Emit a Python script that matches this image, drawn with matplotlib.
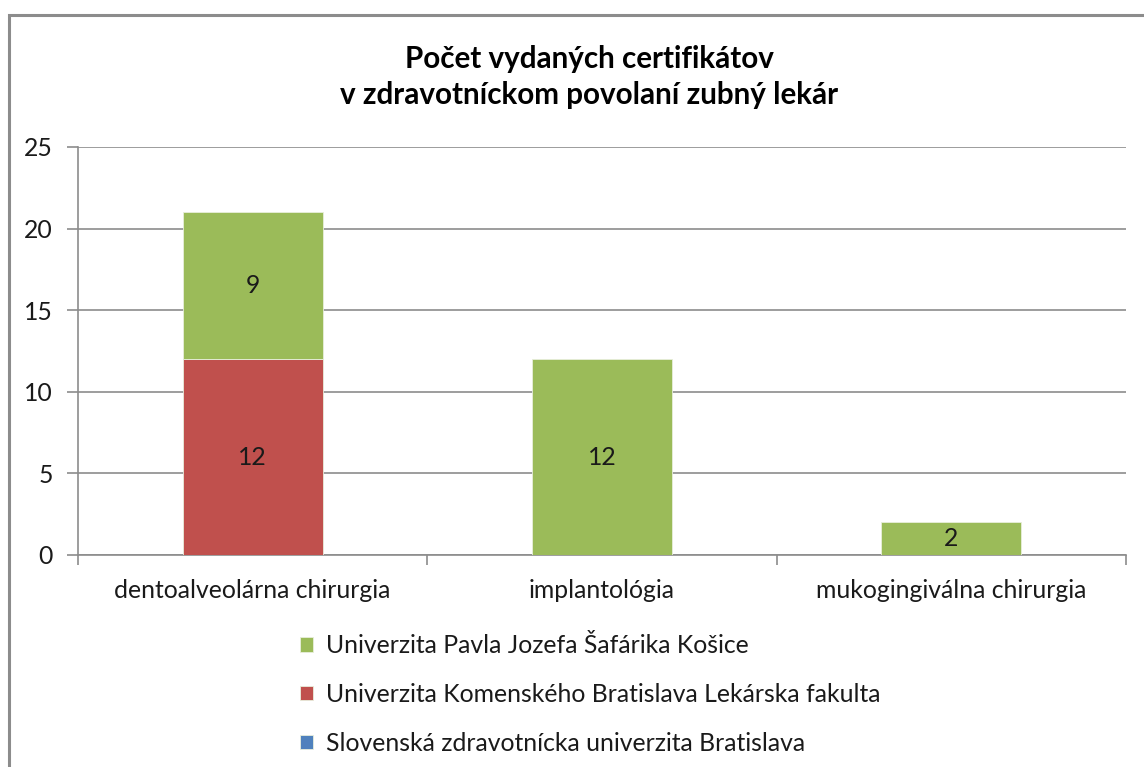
import numpy as np
import matplotlib.pyplot as plt
from matplotlib.patches import Rectangle

plt.rcParams['font.family'] = ['Lato', 'DejaVu Sans']

# Data
kategorie = ['dentoalveolárna chirurgia', 'implantológia', 'mukogingiválna chirurgia']
szu = [0, 0, 0]
uk_lf = [12, 0, 0]
upjs = [9, 12, 2]
nazvy = ['Slovenská zdravotnícka univerzita Bratislava',
         'Univerzita Komenského Bratislava Lekárska fakulta',
         'Univerzita Pavla Jozefa Šafárika Košice']
farby = ['#4F81BD', '#C0504D', '#9BBB59']

W, H = 1144, 767
fs = 17.8
fig = plt.figure(figsize=(W / 100, H / 100), dpi=100)
ax = fig.add_axes([78 / W, 1 - 555 / H, (1126 - 78) / W, (555 - 147) / H])

x = np.arange(len(kategorie))
sirka = 0.4
spodok = np.zeros(len(kategorie))
for hodnoty, nazov, farba in zip([szu, uk_lf, upjs], nazvy, farby):
    b = ax.bar(x, hodnoty, sirka, bottom=spodok, color=farba, label=nazov,
               edgecolor='#e8eedc', linewidth=0.6, zorder=3)
    ax.bar_label(b, labels=[str(v) if v else '' for v in hodnoty],
                 label_type='center', fontsize=fs, color='#1a1a1a')
    spodok += np.array(hodnoty)

ax.set_xlim(-0.5, 2.5)
ax.set_ylim(0, 25)
ax.set_yticks(range(0, 26, 5))
ax.yaxis.grid(True, color='#8c8c8c', linewidth=1.2, zorder=0)
ax.set_xticks(x)
ax.set_xticklabels(kategorie, fontsize=fs, color='#1a1a1a')
ax.set_xticks([-0.5, 0.5, 1.5, 2.5], minor=True)
ax.tick_params(axis='x', which='major', length=0, pad=17)
ax.tick_params(axis='x', which='minor', length=7, color='#8c8c8c', width=1.2)
ax.tick_params(axis='y', length=8, color='#8c8c8c', width=1.2, labelsize=fs,
               labelcolor='#1a1a1a', pad=10)
for s in ['top', 'right']:
    ax.spines[s].set_visible(False)
for s in ['left', 'bottom']:
    ax.spines[s].set_color('#8c8c8c')
    ax.spines[s].set_linewidth(1.2)

fig.text(589 / W, 1 - 77 / H, 'Počet vydaných certifikátov\nv zdravotníckom povolaní zubný lekár',
         ha='center', va='center', fontsize=21.3, fontweight='bold', linespacing=1.32)

h, l = ax.get_legend_handles_labels()
fig.legend(h[::-1], l[::-1], loc='upper left', bbox_to_anchor=(278 / W, 1 - 612 / H),
           frameon=False, fontsize=fs, handlelength=0.5, handleheight=0.5,
           handletextpad=0.55, labelspacing=1.05, labelcolor='#1a1a1a')

fig.add_artist(Rectangle((9 / W, -0.1), 1.2, 1 - 15 / H + 0.1, transform=fig.transFigure,
                         fill=False, edgecolor='#8c8c8c', linewidth=2.2))

fig.savefig('out.png', dpi=100)
